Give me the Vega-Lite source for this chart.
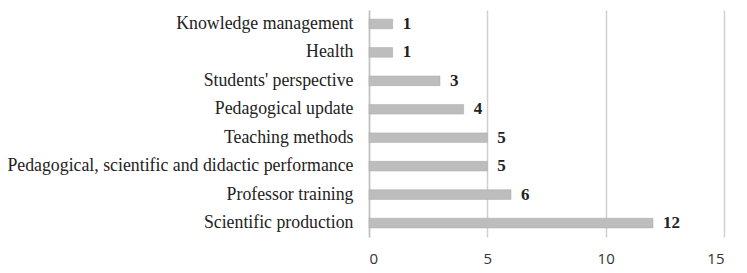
{
  "$schema": "https://vega.github.io/schema/vega-lite/v6.json",
  "autosize": "none",
  "width": 355,
  "height": 227,
  "padding": {"left": 369, "top": 10, "right": 23, "bottom": 36},
  "background": "white",
  "data": {"values": [
    {"topic": "Knowledge management", "count": 1},
    {"topic": "Health", "count": 1},
    {"topic": "Students' perspective", "count": 3},
    {"topic": "Pedagogical update", "count": 4},
    {"topic": "Teaching methods", "count": 5},
    {"topic": "Pedagogical, scientific and didactic performance", "count": 5},
    {"topic": "Professor training", "count": 6},
    {"topic": "Scientific production", "count": 12}
  ]},
  "encoding": {
    "y": {
      "field": "topic", "type": "nominal", "sort": null,
      "scale": {"paddingInner": 0.66, "paddingOuter": 0.32},
      "axis": {
        "title": null, "ticks": false, "domain": true, "domainColor": "#c0c0c0", "domainWidth": 1.5,
        "labelFont": "Liberation Serif", "labelFontSize": 17.8, "labelColor": "#222222",
        "labelPadding": 16, "labelLimit": 400
      }
    },
    "x": {
      "field": "count", "type": "quantitative",
      "scale": {"domain": [0, 15], "nice": false},
      "axis": {
        "title": null, "values": [0, 5, 10, 15], "ticks": false, "domain": false,
        "grid": true, "gridColor": "#d0d0d0", "gridWidth": 1.5,
        "labelFont": "Open Sans", "labelFontSize": 15, "labelColor": "#333333",
        "labelPadding": 14
      }
    }
  },
  "layer": [
    {"mark": {"type": "bar", "color": "#bdbdbd", "stroke": "#a8a8a8", "strokeWidth": 0.5}},
    {"mark": {"type": "text", "align": "left", "dx": 10, "font": "Liberation Serif", "fontWeight": "bold", "fontSize": 17, "color": "#222222"},
     "encoding": {"text": {"field": "count", "type": "quantitative"}}}
  ],
  "config": {"view": {"stroke": null}}
}
